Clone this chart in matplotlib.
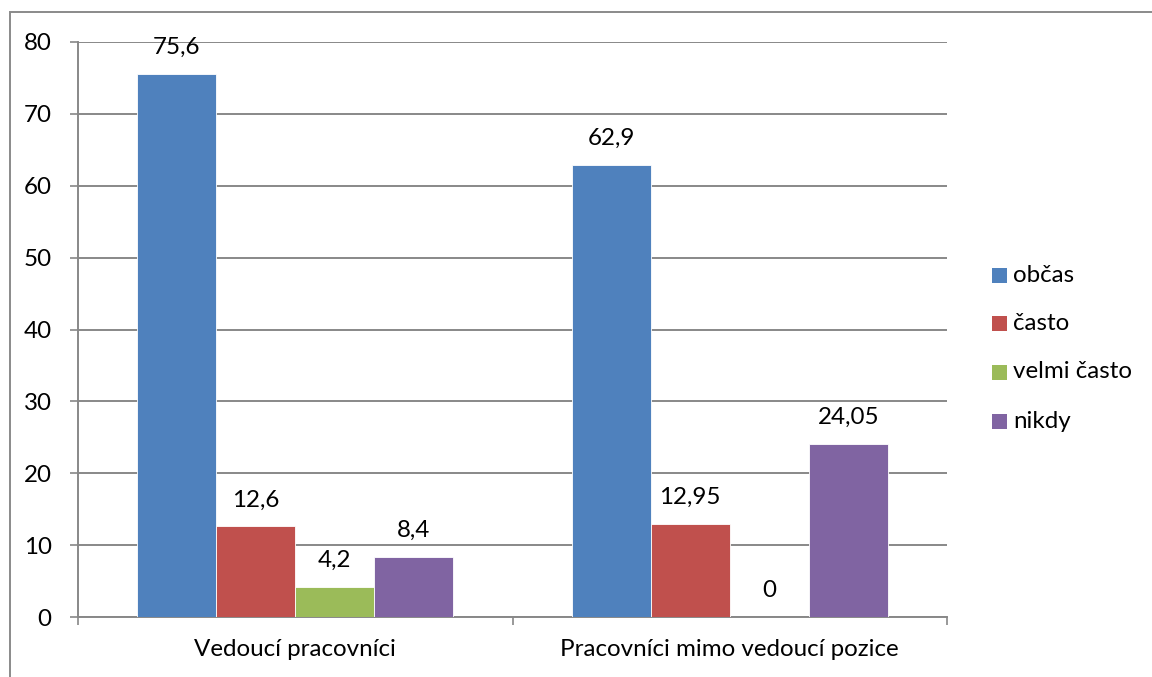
import matplotlib
matplotlib.use("Agg")
import matplotlib.pyplot as plt
from matplotlib.patches import Rectangle
import numpy as np

plt.rcParams['font.family'] = ['Lato', 'DejaVu Sans']

categories = ["Vedoucí pracovníci", "Pracovníci mimo vedoucí pozice"]
series_names = ["občas", "často", "velmi často", "nikdy"]
values = {
    "občas": [75.6, 62.9],
    "často": [12.6, 12.95],
    "velmi často": [4.2, 0],
    "nikdy": [8.4, 24.05],
}
value_labels = {
    "občas": ["75,6", "62,9"],
    "často": ["12,6", "12,95"],
    "velmi často": ["4,2", "0"],
    "nikdy": ["8,4", "24,05"],
}
colors = ["#4F81BD", "#C0504D", "#9BBB59", "#8064A2"]
yticks = [0, 10, 20, 30, 40, 50, 60, 70, 80]

W, H = 1152, 677
fig = plt.figure(figsize=(W / 100, H / 100), dpi=100)
fig.patch.set_facecolor("white")

# outer chart frame
fig.patches.append(Rectangle((10 / W, -0.1), 1.2, 1 - 12 / H + 0.1,
                             transform=fig.transFigure, fill=False,
                             edgecolor="#8a8a8a", linewidth=1.4))

ax = fig.add_axes([78 / W, 60 / H, (947 - 78) / W, (617 - 42) / H])

grid_col = "#888888"
fs = 17.4

n = len(series_names)
bar_w = 1.0 / (n + 1.5)
x = np.arange(len(categories))
for i, (name, col) in enumerate(zip(series_names, colors)):
    offs = (i - (n - 1) / 2) * bar_w
    bars = ax.bar(x + offs, values[name], width=bar_w, color=col,
                  edgecolor="white", linewidth=0.6, zorder=3)
    for rect, lab in zip(bars, value_labels[name]):
        ax.annotate(lab, (rect.get_x() + rect.get_width() / 2, rect.get_height()),
                    xytext=(0, 19), textcoords="offset points",
                    ha="center", va="center", fontsize=fs, color="black")

ax.set_xlim(-0.5, len(categories) - 0.5)
ax.set_ylim(0, 80)
ax.set_yticks(yticks)
ax.set_yticklabels([str(t) for t in yticks], fontsize=fs)
ax.yaxis.grid(True, color=grid_col, linewidth=1.4, zorder=0)
ax.set_axisbelow(True)

ax.set_xticks(x)
ax.set_xticklabels(categories, fontsize=fs)
ax.set_xticks(np.arange(len(categories) + 1) - 0.5, minor=True)
ax.tick_params(axis="x", which="major", length=0, pad=16)
ax.tick_params(axis="x", which="minor", length=6, width=1.2, color=grid_col, direction="out")
ax.tick_params(axis="y", length=6, width=1.2, color=grid_col, pad=13)

for s in ["top", "right"]:
    ax.spines[s].set_visible(False)
for s in ["left", "bottom"]:
    ax.spines[s].set_color(grid_col)
    ax.spines[s].set_linewidth(1.4)

# legend
leg_y = [275, 324, 372, 421]
for name, col, yy in zip(series_names, colors, leg_y):
    fig.patches.append(Rectangle((992 / W, 1 - (yy + 7.5) / H), 15 / W, 15 / H,
                                 transform=fig.transFigure, facecolor=col,
                                 edgecolor="none"))
    fig.text(1013 / W, 1 - yy / H, name, ha="left", va="center", fontsize=fs)

fig.savefig("out.png", dpi=100, facecolor="white")
